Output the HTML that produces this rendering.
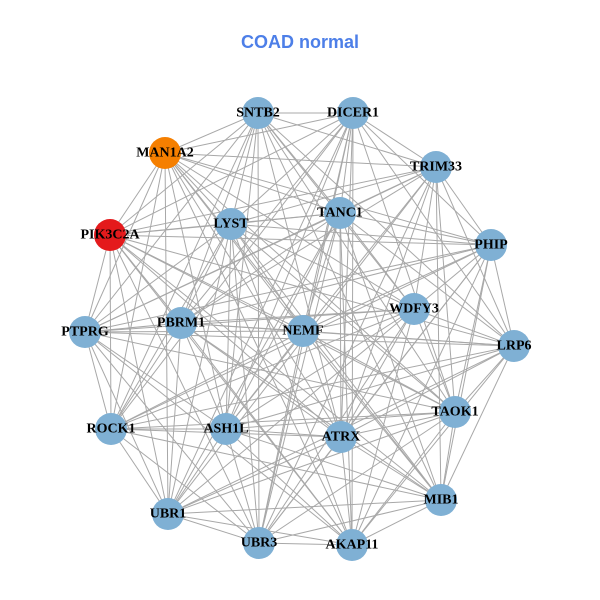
<!DOCTYPE html>
<html><head><meta charset="utf-8"><style>
html,body{margin:0;padding:0;background:#fff;}
svg{display:block;}
.l{font-family:"Liberation Serif",serif;font-weight:bold;font-size:14px;fill:#000;text-anchor:middle;dominant-baseline:central;}
</style></head><body>
<svg id="s" width="600" height="600" viewBox="0 0 600 600">
<text x="300" y="42" text-anchor="middle" dominant-baseline="central" font-family="Liberation Sans, sans-serif" font-weight="bold" font-size="18" fill="#4d7fe8">COAD normal</text>
<g id="e" stroke="#a8a8a8" stroke-width="1"></g>
<g id="n"></g>
<g>
<text class="l" x="258" y="113">SNTB2</text>
<text class="l" x="353" y="113">DICER1</text>
<text class="l" x="165" y="153">MAN1A2</text>
<text class="l" x="436" y="167">TRIM33</text>
<text class="l" x="110" y="235">PIK3C2A</text>
<text class="l" x="231" y="224">LYST</text>
<text class="l" x="340" y="213">TANC1</text>
<text class="l" x="491" y="245">PHIP</text>
<text class="l" x="85" y="332">PTPRG</text>
<text class="l" x="181" y="323">PBRM1</text>
<text class="l" x="303" y="331">NEMF</text>
<text class="l" x="414" y="309">WDFY3</text>
<text class="l" x="514" y="346">LRP6</text>
<text class="l" x="111" y="429">ROCK1</text>
<text class="l" x="226" y="429">ASH1L</text>
<text class="l" x="341" y="437">ATRX</text>
<text class="l" x="455" y="412">TAOK1</text>
<text class="l" x="168" y="514">UBR1</text>
<text class="l" x="441" y="500">MIB1</text>
<text class="l" x="259" y="543">UBR3</text>
<text class="l" x="352" y="545">AKAP11</text>
</g>
</svg>
<script>
var P=[[258,113],[353,113],[165,153],[436,167],[110,235],[231,224],[340,213],[491,245],[85,332],[181,323],[303,331],[414,309],[514,346],[111,429],[226,429],[341,437],[455,412],[168,514],[441,500],[259,543],[352,545]];
var ns="http://www.w3.org/2000/svg",e=document.getElementById('e'),n=document.getElementById('n');
for(var i=0;i<P.length;i++)for(var j=i+1;j<P.length;j++){
 if(((i*7+j*13)%10)<2)continue;
 var l=document.createElementNS(ns,'line');
 l.setAttribute('x1',P[i][0]);l.setAttribute('y1',P[i][1]);l.setAttribute('x2',P[j][0]);l.setAttribute('y2',P[j][1]);e.appendChild(l);}
for(var i=0;i<P.length;i++){var c=document.createElementNS(ns,'circle');
 c.setAttribute('cx',P[i][0]);c.setAttribute('cy',P[i][1]);c.setAttribute('r',16);
 c.setAttribute('fill',i==2?'#f57f00':i==4?'#e41a1c':'#7fb0d4');n.appendChild(c);}
</script>
</body></html>
